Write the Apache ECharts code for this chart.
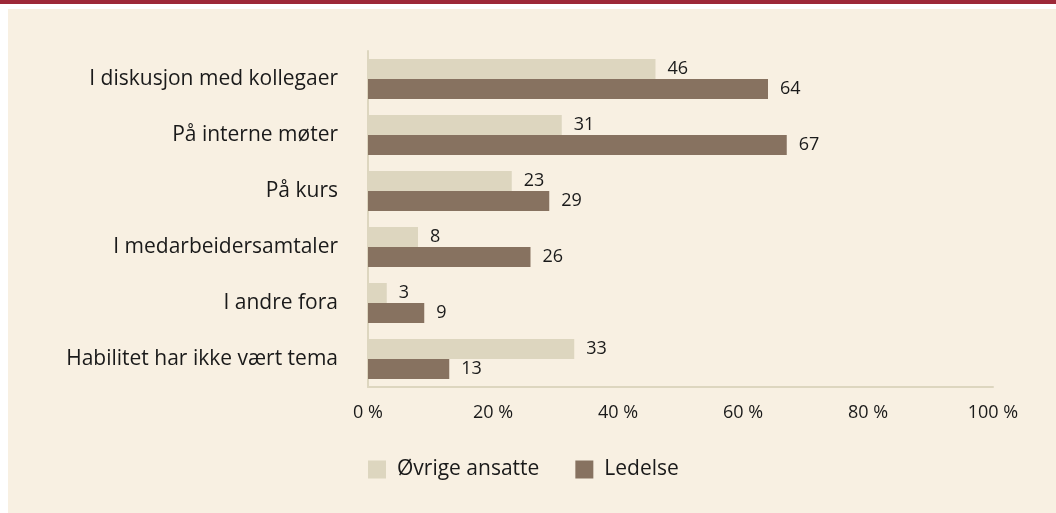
<!DOCTYPE html>
<html>
<head>
<meta charset="utf-8">
<script src="https://cdn.jsdelivr.net/npm/echarts@6/dist/echarts.min.js"></script>
<style>
    html, body { margin: 0; padding: 0; background: #ffffff; }
    #topBand { position: absolute; left: 0; top: 0; width: 1056px; height: 4px; background: #9d2838; }
    #chart { position: absolute; left: 8px; top: 9px; width: 1048px; height: 504px; background: #f8f0e2; }
</style>
</head>
<body>
<div id="topBand"></div>
<div id="chart"></div>
<script>
var categories = ['I diskusjon med kollegaer', 'På interne møter', 'På kurs', 'I medarbeidersamtaler', 'I andre fora', 'Habilitet har ikke vært tema'];
var ovrigeAnsatte = [46, 31, 23, 8, 3, 33];
var ledelse = [64, 67, 29, 26, 9, 13];
var xTicks = [0, 20, 40, 60, 80, 100];

window.onload = function () {
    var chart = echarts.init(document.getElementById('chart'));
    var font = 'Open Sans';
    // etikett til høyre for hver stolpe
    var labelOption = {
        show: true,
        position: 'right',
        distance: 12,
        color: '#1a1a1a',
        fontSize: 18,
        fontFamily: font
    };
    var option = {
        animation: false,
        backgroundColor: '#f8f0e2',
        color: ['#ddd6bf', '#877260'],
        grid: {
            left: 360,
            right: 63,
            top: 42,
            bottom: 126
        },
        legend: {
            left: 360,
            top: 450,
            padding: 0,
            itemWidth: 18,
            itemHeight: 18,
            itemGap: 36,
            icon: 'rect',
            textStyle: {
                fontSize: 21,
                fontFamily: font,
                color: '#1a1a1a',
                padding: [0, 0, 0, 6]
            },
            data: ['Øvrige ansatte', 'Ledelse']
        },
        xAxis: {
            type: 'value',
            min: xTicks[0],
            max: xTicks[xTicks.length - 1],
            interval: 20,
            splitLine: { show: false },
            axisTick: { show: false },
            axisLine: { show: true, lineStyle: { color: '#ddd6bf', width: 2 } },
            axisLabel: {
                formatter: '{value} %',
                margin: 17,
                fontSize: 18,
                fontFamily: font,
                color: '#1a1a1a'
            }
        },
        yAxis: {
            type: 'category',
            inverse: true,
            data: categories,
            axisTick: { show: false },
            axisLine: { show: true, lineStyle: { color: '#ddd6bf', width: 2 } },
            axisLabel: {
                margin: 30,
                fontSize: 21,
                fontFamily: font,
                color: '#1a1a1a'
            }
        },
        series: [
            {
                name: 'Øvrige ansatte',
                type: 'bar',
                barWidth: 20,
                barGap: 0,
                label: labelOption,
                data: ovrigeAnsatte
            },
            {
                name: 'Ledelse',
                type: 'bar',
                barWidth: 20,
                barGap: 0,
                label: labelOption,
                data: ledelse
            }
        ]
    };
    chart.setOption(option);
};
</script>
</body>
</html>
